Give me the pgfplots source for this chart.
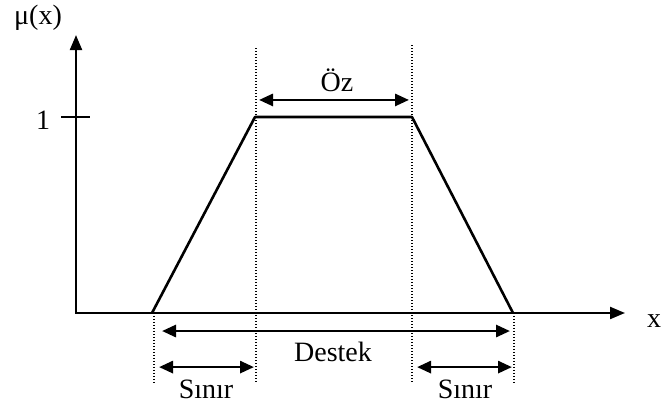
\documentclass[border=0pt]{standalone}
\usepackage{pgfplots}
\pgfplotsset{compat=1.18}
\usepackage{fontspec}
\setmainfont{Liberation Serif}
\usetikzlibrary{arrows.meta}
\begin{document}
\fontsize{28}{33}\selectfont
\begin{tikzpicture}
\begin{axis}[
  width=662pt, height=406pt, scale only axis,
  xmin=-76, xmax=586, ymin=-0.4745, ymax=1.597,
  hide axis, clip=false,
]
\draw[use as bounding box, draw=none] (rel axis cs:0,0) rectangle (rel axis cs:1,1);
% axes
\addplot[black, line width=2.2pt, -{Triangle[length=15pt,width=12pt]}] coordinates {(-1,0) (549,0)};
\addplot[black, line width=2.2pt, -{Triangle[length=15pt,width=12pt]}] coordinates {(0,0) (0,1.418)};
\addplot[black, line width=2.2pt] coordinates {(-15,1) (14,1)};
% trapezoid
\addplot[black, line width=2.6pt, line join=round] coordinates {(76,0) (179,1) (336,1) (437,0)};
% dotted guides
\addplot[black, line width=2pt, dash pattern=on 1.4pt off 1.6pt] coordinates {(78,0) (78,-0.357)};
\addplot[black, line width=2pt, dash pattern=on 1.4pt off 1.6pt] coordinates {(180,1.352) (180,-0.357)};
\addplot[black, line width=2pt, dash pattern=on 1.4pt off 1.6pt] coordinates {(336,1.367) (336,-0.357)};
\addplot[black, line width=2pt, dash pattern=on 1.4pt off 1.6pt] coordinates {(438,0) (438,-0.357)};
% dimension arrows
\addplot[black, line width=2.8pt, {Triangle[length=14pt,width=12pt]}-{Triangle[length=14pt,width=12pt]}] coordinates {(183,1.087) (333,1.087)};
\addplot[black, line width=2.8pt, {Triangle[length=14pt,width=12pt]}-{Triangle[length=14pt,width=12pt]}] coordinates {(86,-0.092) (434,-0.092)};
\addplot[black, line width=2.8pt, {Triangle[length=14pt,width=12pt]}-{Triangle[length=14pt,width=12pt]}] coordinates {(83,-0.276) (178,-0.276)};
\addplot[black, line width=2.8pt, {Triangle[length=14pt,width=12pt]}-{Triangle[length=14pt,width=12pt]}] coordinates {(341,-0.276) (436,-0.276)};
% labels
\node at (axis cs:261,1.185) {Öz};
\node at (axis cs:257,-0.199) {Destek};
\node at (axis cs:130,-0.388) {Sınır};
\node at (axis cs:389,-0.388) {Sınır};
\node at (axis cs:-38,1.505) {μ(x)};
\node at (axis cs:-33,0.985) {1};
\node at (axis cs:578,-0.04) {x};
\end{axis}
\end{tikzpicture}
\end{document}
